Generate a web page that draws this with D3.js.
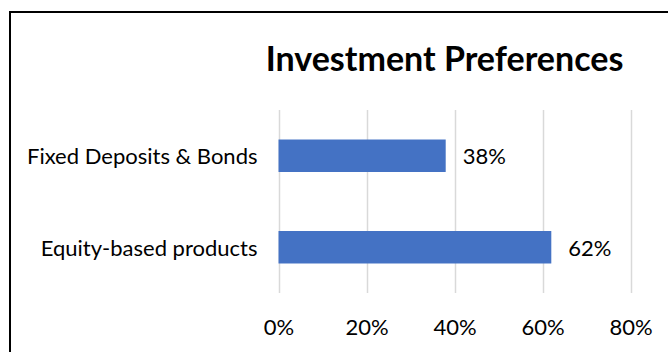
<!DOCTYPE html>
<html>
<head>
<meta charset="utf-8">
<script src="https://cdn.jsdelivr.net/npm/d3@7"></script>
<style>
  html, body { margin: 0; padding: 0; background: #fff; }
  svg { display: block; font-family: Lato, "Open Sans", sans-serif; }
</style>
</head>
<body>
<svg id="chart" width="668" height="352"></svg>
<script>
// dados do gráfico
const categories = ["Fixed Deposits & Bonds", "Equity-based products"];
const values = [0.38, 0.62];
const ticks = [0, 0.2, 0.4, 0.6, 0.8];
const title = "Investment Preferences";

const svg = d3.select("#chart");
const width = +svg.attr("width");
const height = +svg.attr("height");

// moldura (cortada à direita e em baixo)
svg.append("rect")
  .attr("x", 10).attr("y", 12)
  .attr("width", width).attr("height", height)
  .attr("fill", "none")
  .attr("stroke", "#000")
  .attr("stroke-width", 2);

const plot = { left: 278.5, right: 630.5, top: 110, bottom: 293 };

const x = d3.scaleLinear().domain([0, 0.8]).range([plot.left, plot.right]);
const y = d3.scaleBand().domain(categories).range([plot.top, plot.bottom]).paddingInner(0.645).paddingOuter(0.3225);

// título
svg.append("text")
  .attr("x", 444.5).attr("y", 57)
  .attr("text-anchor", "middle")
  .attr("dominant-baseline", "central")
  .attr("font-size", 34)
  .attr("font-weight", "bold")
  .attr("fill", "#000")
  .text(title);

// linhas de grade
svg.append("g").selectAll("line")
  .data(ticks)
  .join("line")
  .attr("x1", d => Math.round(x(d)) + 0.5)
  .attr("x2", d => Math.round(x(d)) + 0.5)
  .attr("y1", plot.top)
  .attr("y2", plot.bottom)
  .attr("stroke", "#d9d9d9")
  .attr("stroke-width", 1.5);

// barras
const data = categories.map((c, i) => ({ cat: c, v: values[i] }));
svg.append("g").selectAll("rect")
  .data(data)
  .join("rect")
  .attr("x", x(0))
  .attr("y", d => y(d.cat))
  .attr("width", d => x(d.v) - x(0))
  .attr("height", y.bandwidth())
  .attr("fill", "#4472c4");

// rótulos das barras
svg.append("g").selectAll("text")
  .data(data)
  .join("text")
  .attr("x", d => x(d.v) + 17)
  .attr("y", d => y(d.cat) + y.bandwidth() / 2)
  .attr("dominant-baseline", "central")
  .attr("font-size", 22)
  .attr("fill", "#000")
  .text(d => Math.round(d.v * 100) + "%");

// categorias
svg.append("g").selectAll("text")
  .data(data)
  .join("text")
  .attr("x", plot.left - 21)
  .attr("y", d => y(d.cat) + y.bandwidth() / 2)
  .attr("text-anchor", "end")
  .attr("dominant-baseline", "central")
  .attr("font-size", 22)
  .attr("fill", "#000")
  .text(d => d.cat);

// eixo x (só os rótulos)
const xAxis = svg.append("g")
  .attr("transform", `translate(0,${plot.bottom})`)
  .call(d3.axisBottom(x).tickValues(ticks).tickFormat(d3.format(".0%")).tickSize(0).tickPadding(26));
xAxis.select(".domain").remove();
xAxis.selectAll("text")
  .attr("font-family", "Lato, 'Open Sans', sans-serif")
  .attr("font-size", 22)
  .attr("fill", "#000");
</script>
</body>
</html>
